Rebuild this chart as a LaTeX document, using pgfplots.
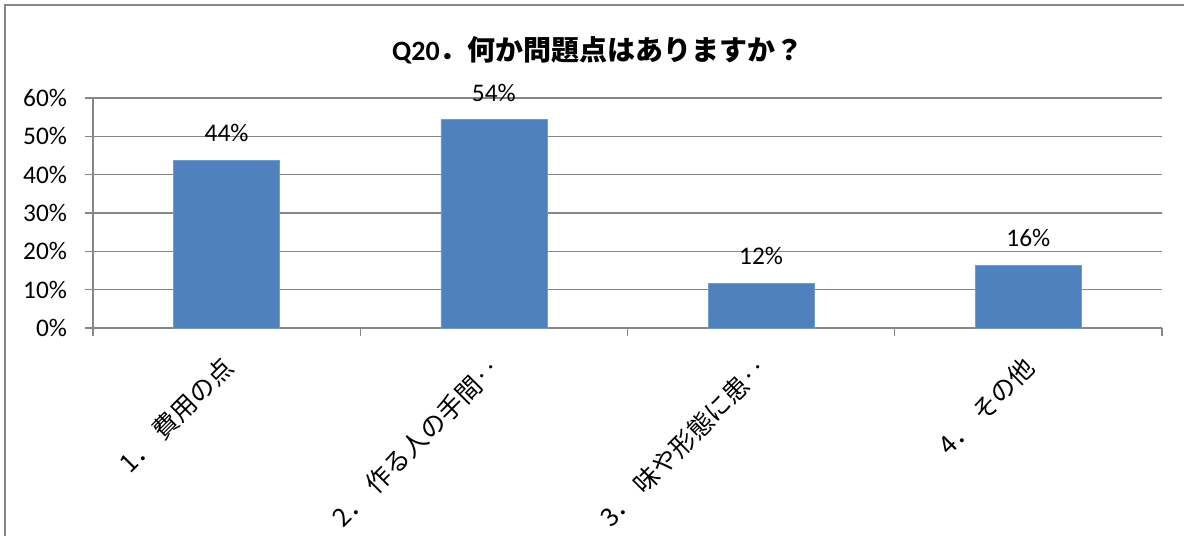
\documentclass[border=0pt]{standalone}
\usepackage{pgfplots}
\pgfplotsset{compat=1.18}
\usepackage{fontspec}
\setmainfont{Carlito}
\newfontfamily\jp{Noto Sans CJK JP}
\definecolor{barblue}{HTML}{4F81BD}
\definecolor{gridgray}{HTML}{868686}
\begin{document}
\begin{tikzpicture}[x=1pt,y=1pt]
% picture frame: 1184x535 px at 0.75pt/px, axis box origin at px (93,328)
\path[use as bounding box] (-69.75,-155.25) rectangle (818.25,246);
\draw[gridgray, line width=1.2pt] (-66,-160) -- (-66,242.25) -- (830,242.25);
\begin{axis}[
    at={(0,0)}, anchor=south west,
    scale only axis,
    width=801.75pt, height=172.5pt,
    xmin=-0.5, xmax=3.5,
    ymin=0, ymax=60,
    ytick={0,10,...,60},
    yticklabel={\pgfmathprintnumber[assume math mode=true]{\tick}\%},
    xtick={-0.5,0.5,1.5,2.5,3.5},
    x tick label as interval,
    xticklabels={{1．\hspace{0.3em}費用の点},{2．\hspace{0.3em}作る人の手間‥},{3．\hspace{0.3em}味や形態に患‥},{4．\hspace{0.3em}その他}},
    xticklabel style={font=\jp\fontsize{19}{22}\selectfont, rotate=45, anchor=north east, xshift=-10pt, yshift=-3pt},
    yticklabel style={font=\fontsize{19}{22}\selectfont, xshift=-10pt},
    axis x line*=bottom, axis y line*=left,
    axis line style={gridgray, line width=0.8pt},
    ymajorgrids, grid style={gridgray, line width=0.8pt},
    tick align=outside, major tick length=6pt,
    tick style={gridgray, line width=0.8pt},
    ybar, bar width=79.5pt,
    nodes near coords={\pgfmathprintnumber[fixed, precision=0, assume math mode=true]{\pgfplotspointmeta}\%},
    nodes near coords style={font=\fontsize{19}{22}\selectfont, black, yshift=10pt},
]
\addplot[fill=barblue, draw=barblue!80!white] coordinates {(0,43.8) (1,54.4) (2,11.7) (3,16.4)};
\end{axis}
\node[font=\bfseries\fontsize{21}{25}\selectfont] at (378.75,208.5) {Q20{\jp ．何か問題点はありますか？}};
\end{tikzpicture}
\end{document}
